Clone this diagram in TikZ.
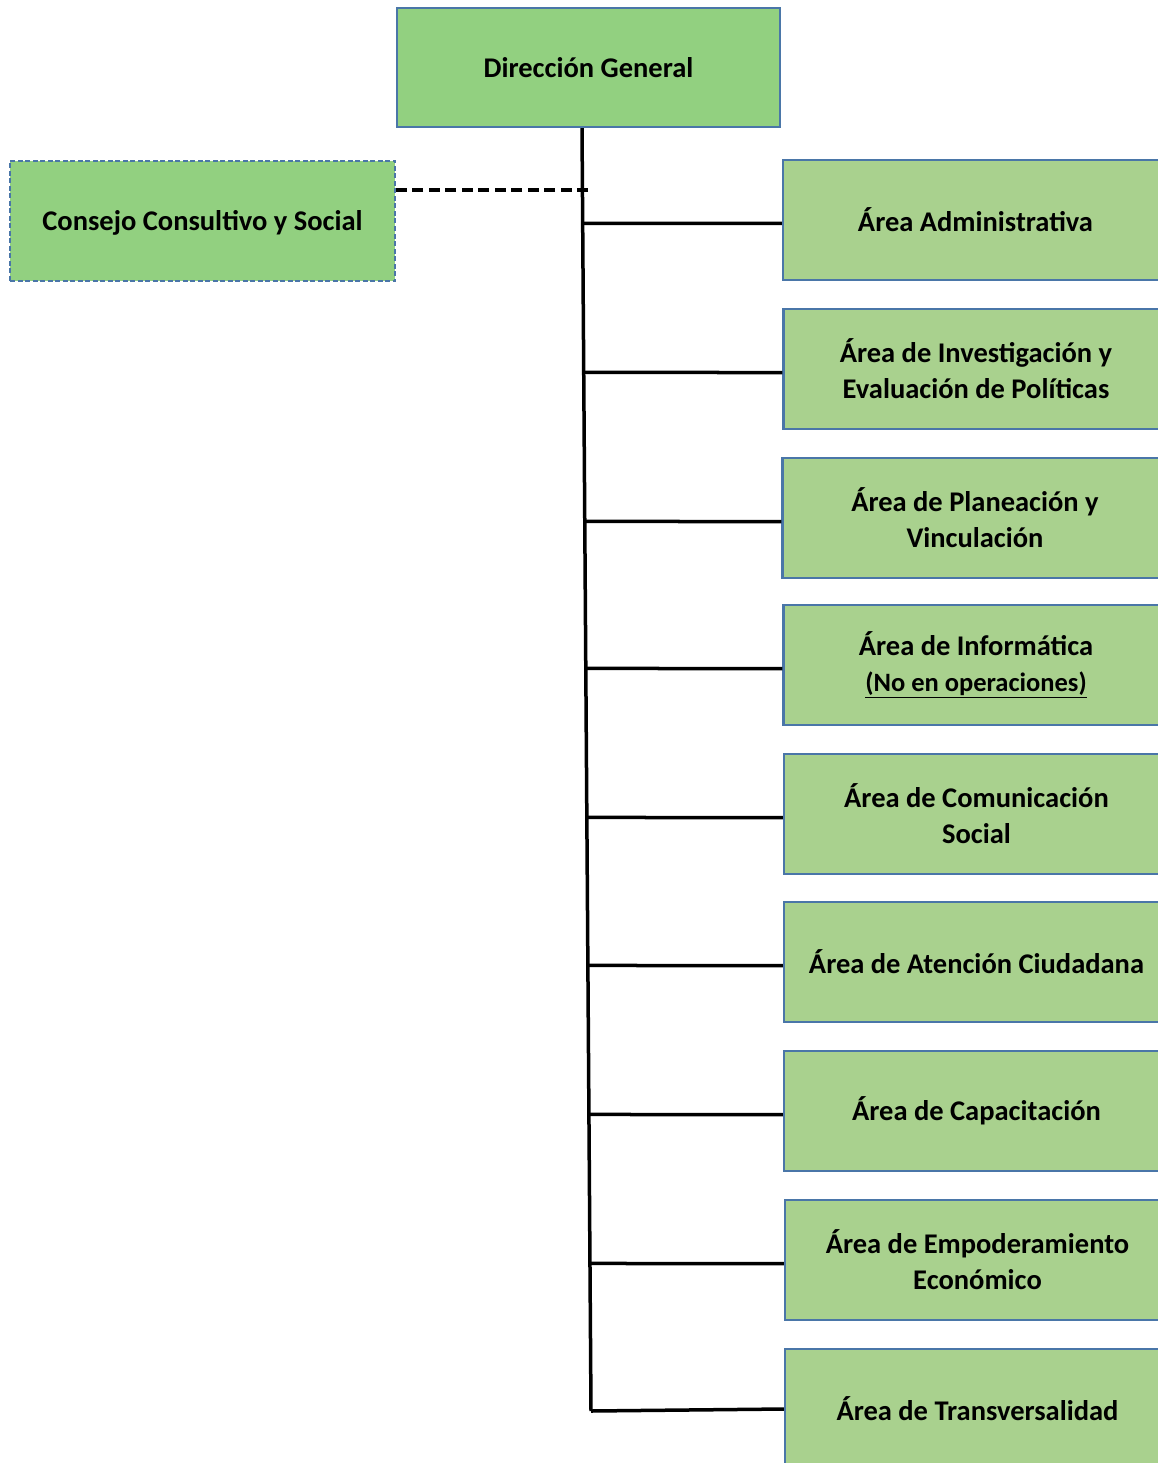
\documentclass[tikz,border=0pt]{standalone}
\usepackage{fontspec}
\setmainfont{Carlito}
\definecolor{boxblue}{HTML}{4A76A8}
\definecolor{topgreen}{HTML}{92D080}
\definecolor{areagreen}{HTML}{A9D18E}
\begin{document}
\begin{tikzpicture}[x=1pt,y=-1pt,
  every node/.style={font=\bfseries\fontsize{28.5}{36}\selectfont, align=center, inner sep=0pt, text=black},
  dgbox/.style={draw=boxblue, line width=2.2pt, fill=topgreen, minimum width=383pt, minimum height=119pt},
  ccbox/.style={draw=boxblue, line width=2.2pt, fill=topgreen, dash pattern=on 5pt off 2.5pt, minimum width=385pt, minimum height=120pt, text height=26pt, text depth=6pt},
  areabox/.style={draw=boxblue, line width=2.2pt, fill=areagreen, minimum width=385pt, minimum height=120pt},
  conn/.style={draw=black, line width=3.5pt},
  dconn/.style={draw=black, line width=3.5pt, dash pattern=on 11pt off 5.5pt}]
\useasboundingbox (0,0) rectangle (1158,1463);
\clip (0,0) rectangle (1158,1463);
\fill[white] (0,0) rectangle (1158,1463);

\coordinate (top) at (582,127);
\coordinate (bot) at (591,1411);
\coordinate (dj) at (588,190);

% trunk first (boxes drawn on top)
\path[conn] (top) -- (bot);

\node[dgbox] (dg) at (588.5,67.5) {Dirección General};
\node[ccbox] (cc) at (202.5,221) {Consejo Consultivo y Social};

\node[areabox] (a1) at (975.5,220) {Área Administrativa};
\node[areabox] (a2) at (976,369) {Área de Investigación y\\Evaluación de Políticas};
\node[areabox] (a3) at (975,518) {Área de Planeación y\\Vinculación};
\node[areabox] (a4) at (976,665) {Área de Informática\\{\fontsize{26.5}{30}\selectfont\underline{(No en operaciones)}}};
\node[areabox] (a5) at (976.5,814) {Área de Comunicación\\Social};
\node[areabox] (a6) at (976.5,962) {Área de Atención Ciudadana};
\node[areabox] (a7) at (976.5,1111) {Área de Capacitación};
\node[areabox] (a8) at (977.5,1260) {Área de Empoderamiento\\Económico};
\node[areabox] (a9) at (977.5,1409) {Área de Transversalidad};

\path[dconn] (dj) -- (dj -| cc.east);
\foreach \n in {a1,a2,a3,a4,a5,a6,a7,a8}{
  \coordinate (\n w) at ([yshift=-3.5pt]\n.west);
  \coordinate (\n e) at ([yshift=-3.5pt]\n.east);
  \path[conn] (intersection of \n w--\n e and top--bot) -- (\n w);
}
\path[conn] (bot) -- (a9.west);
\end{tikzpicture}
\end{document}
